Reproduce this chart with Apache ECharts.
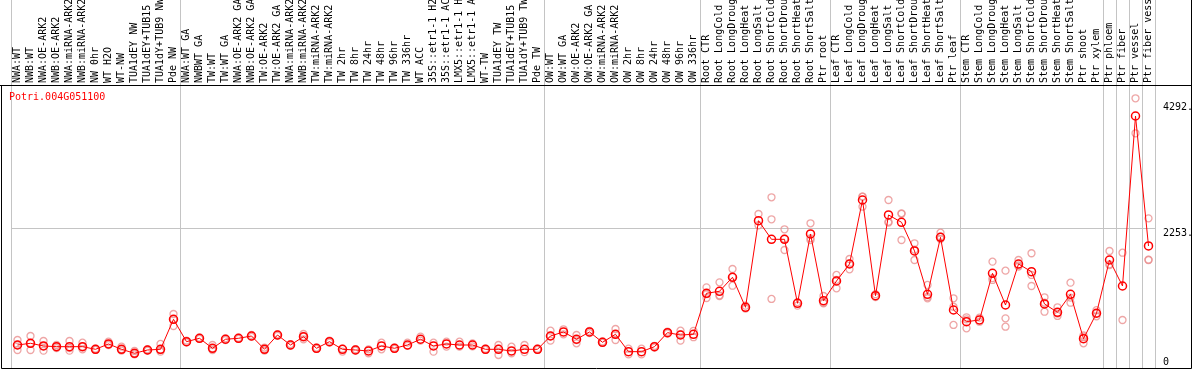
<!DOCTYPE html>
<html>
<head>
<meta charset="utf-8">
<script src="https://cdn.jsdelivr.net/npm/echarts@6/dist/echarts.min.js"></script>
<style>
html, body { margin: 0; padding: 0; background: #fff; }
#chart { width: 1194px; height: 370px; }
</style>
</head>
<body>
<div id="chart"></div>
<script>
var geneName = 'Potri.004G051100';

// 样品名称（共88个）
var categories = [
	'NWA:WT', 'NWB:WT', 'NWA:OE-ARK2', 'NWB:OE-ARK2', 'NWA:miRNA-ARK2', 'NWB:miRNA-ARK2', 'NW 0hr', 'WT H2O', 'WT-NW',
	'TUA1dEY NW', 'TUA1dEY+TUB15 NW', 'TUA1dY+TUB9 NW', 'Pde NW',
	'NWA:WT GA', 'NWBWT GA', 'TW:WT', 'TW:WT GA', 'NWA:OE-ARK2 GA', 'NWB:OE-ARK2 GA', 'TW:OE-ARK2', 'TW:OE-ARK2 GA',
	'NWA:miRNA-ARK2 GA', 'NWB:miRNA-ARK2 GA', 'TW:miRNA-ARK2', 'TW:miRNA-ARK2 GA', 'TW 2hr', 'TW 8hr', 'TW 24hr', 'TW 48hr',
	'TW 96hr', 'TW 336hr', 'WT ACC', '35S::etr1-1 H2O', '35S::etr1-1 ACC', 'LMX5::etr1-1 H2O', 'LMX5::etr1-1 ACC', 'WT-TW',
	'TUA1dEY TW', 'TUA1dEY+TUB15 TW', 'TUA1dY+TUB9 TW', 'Pde TW',
	'OW:WT', 'OW:WT GA', 'OW:OE-ARK2', 'OW:OE-ARK2 GA', 'OW:miRNA-ARK2', 'OW:miRNA-ARK2 GA', 'OW 2hr', 'OW 8hr', 'OW 24hr',
	'OW 48hr', 'OW 96hr', 'OW 336hr',
	'Root CTR', 'Root LongCold', 'Root LongDrought', 'Root LongHeat', 'Root LongSalt', 'Root ShortCold', 'Root ShortDrought',
	'Root ShortHeat', 'Root ShortSalt', 'Ptr root',
	'Leaf CTR', 'Leaf LongCold', 'Leaf LongDrought', 'Leaf LongHeat', 'Leaf LongSalt', 'Leaf ShortCold', 'Leaf ShortDrought',
	'Leaf ShortHeat', 'Leaf ShortSalt', 'Ptr leaf',
	'Stem CTR', 'Stem LongCold', 'Stem LongDrought', 'Stem LongHeat', 'Stem LongSalt', 'Stem ShortCold', 'Stem ShortDrought',
	'Stem ShortHeat', 'Stem ShortSalt', 'Ptr shoot', 'Ptr xylem',
	'Ptr phloem', 'Ptr fiber', 'Ptr vessel', 'Ptr fiber vessel'
];

// 每组第一个样品的序号（分组竖线）
var groupStarts = [0, 13, 41, 53, 63, 73, 84, 85, 86, 87];

// 平均值
var means = [
	214, 244, 197, 185, 185, 185, 139, 232, 139, 70, 127, 139, 662,
	272, 331, 157, 314, 331, 371, 139, 388, 214, 359, 157, 272, 139, 127, 110, 197, 157, 214, 314, 197, 232, 214, 214, 139, 139, 110, 139, 139,
	371, 441, 314, 441, 261, 401, 98, 98, 185, 429, 388, 401,
	1115, 1150, 1394, 871, 2380, 2055, 2055, 941, 2148, 986,
	1329, 1625, 2740, 1073, 2479, 2352, 1852, 1097, 2090, 824,
	620, 650, 1463, 911, 1625, 1491, 929, 784, 1097, 324, 767,
	1695, 1242, 4203, 1939
];

// 重复样品的值
var reps = [
	[301, 214, 127], [371, 244, 127], [284, 197, 115], [215, 185, 160], [284, 160, 115], [255, 185, 139], [150, 139, 128],
	[272, 232, 214], [185, 139, 115], [110, 70, 52], [139, 127, 115], [232, 127, 98], [754, 662, 545],
	[290, 260], [340, 320], [214, 157, 127], [330, 300], [340, 320], [390, 355], [170, 139, 115], [400, 375], [230, 200],
	[406, 359, 313], [170, 145], [290, 255], [150, 100], [140, 115], [139, 70], [255, 139], [170, 145], [255, 200],
	[360, 290], [255, 98], [272, 185], [272, 185], [240, 190], [150, 128], [214, 150, 40], [185, 70], [214, 90], [150, 128],
	[464, 371, 290], [488, 400], [388, 300, 244], [460, 420], [275, 250], [493, 401, 301], [150, 50], [150, 50], [200, 170],
	[445, 415], [464, 400, 290], [460, 350],
	[1219, 1100, 1033], [1306, 1080, 1068], [1538, 1400, 1247], [900, 850], [2496, 2300], [2787, 2404, 1016],
	[2230, 2065, 1869], [960, 900], [2334, 2073, 2040], [1068, 950, 940],
	[1434, 1350, 1202], [1712, 1630, 1533], [2798, 2800, 2623], [1100, 1050], [2740, 2345, 2360], [2508, 2500, 2043],
	[1986, 1875, 1695], [1260, 1050, 1028], [2171, 2100, 2060], [1028, 880, 563],
	[697, 660, 505], [690, 620], [1666, 1380, 1347], [1509, 679, 533], [1695, 1600, 1580], [1812, 1434, 1242],
	[1045, 950, 794], [871, 760, 720], [1300, 1040, 951], [380, 350, 244], [820, 767, 714],
	[1852, 1620, 1608], [1822, 650], [4512, 3902], [2421, 1695, 1700]
];

// 右侧刻度
var lowTicks = [0, 2253];
var highTicks = [4292];
var midLine = 2253;

var monoFont = 'DejaVu Sans Mono';

var repData = [];
for (var i = 0; i < reps.length; i++) {
	for (var j = 0; j < reps[i].length; j++) {
		repData.push([i, reps[i][j]]);
	}
}

var dom = document.getElementById('chart');
var myChart = echarts.init(dom);

var yBase = {
	type: 'value',
	position: 'right',
	min: -204,
	max: 6224,
	axisLine: { show: false },
	axisTick: { show: false },
	splitLine: { show: false }
};

var option = {
	animation: false,
	backgroundColor: '#fff',
	title: {
		text: geneName,
		left: 9,
		top: 92,
		padding: 0,
		textStyle: { color: '#ff0000', fontSize: 10, fontWeight: 'normal', fontFamily: monoFont }
	},
	grid: { left: 11, right: 39, top: 0, bottom: 1, outerBoundsMode: 'none' },
	xAxis: {
		type: 'category',
		data: categories,
		position: 'top',
		offset: -85, // 标签放在表头区域
		boundaryGap: true,
		axisLine: { show: false },
		axisTick: { show: false },
		axisLabel: {
			interval: 0,
			rotate: 90,
			margin: 2,
			color: '#000',
			fontSize: 10,
			fontFamily: monoFont
		},
		splitLine: {
			show: true,
			interval: function(index) {
				return groupStarts.indexOf(index) >= 0;
			},
			lineStyle: { color: '#c4c4c4', width: 1 }
		}
	},
	yAxis: [
		echarts.util.merge({
			axisLabel: {
				customValues: lowTicks,
				margin: 8,
				verticalAlign: 'top',
				color: '#000',
				fontSize: 10,
				fontFamily: monoFont,
				formatter: function(v) { return v === 0 ? '0' : v + '.'; }
			}
		}, yBase),
		echarts.util.merge({
			axisLabel: {
				customValues: highTicks,
				margin: 8,
				verticalAlign: 'bottom',
				lineHeight: 8,
				color: '#000',
				fontSize: 10,
				fontFamily: monoFont,
				formatter: function(v) { return v + '.'; }
			}
		}, yBase)
	],
	series: [
		{
			name: 'reps',
			type: 'scatter',
			data: repData,
			symbol: 'circle',
			symbolSize: 7,
			itemStyle: { color: 'rgba(0,0,0,0)', borderColor: '#ea9090', borderWidth: 1.3 },
			z: 2
		},
		{
			name: 'mean',
			type: 'line',
			data: means,
			symbol: 'circle',
			symbolSize: 8,
			showAllSymbol: true,
			itemStyle: { color: 'rgba(0,0,0,0)', borderColor: '#ff0000', borderWidth: 1.5 },
			lineStyle: { color: '#ff0000', width: 1 },
			z: 3,
			markLine: {
				silent: true,
				symbol: 'none',
				label: { show: false },
				lineStyle: { color: '#c4c4c4', type: 'solid', width: 1 },
				data: [{ yAxis: midLine }],
				z: 1
			}
		}
	],
	graphic: [
		{ type: 'line', z: 100, shape: { x1: 0, y1: 85.5, x2: 1192, y2: 85.5 }, style: { stroke: '#000', lineWidth: 1 } },
		{ type: 'rect', z: 100, shape: { x: 1.5, y: 85.5, width: 1190, height: 283 }, style: { fill: 'none', stroke: '#000', lineWidth: 1 } },
		{ type: 'line', z: 100, shape: { x1: 1191.5, y1: 0, x2: 1191.5, y2: 85 }, style: { stroke: '#000', lineWidth: 1 } }
	]
};

myChart.setOption(option);
</script>
</body>
</html>
